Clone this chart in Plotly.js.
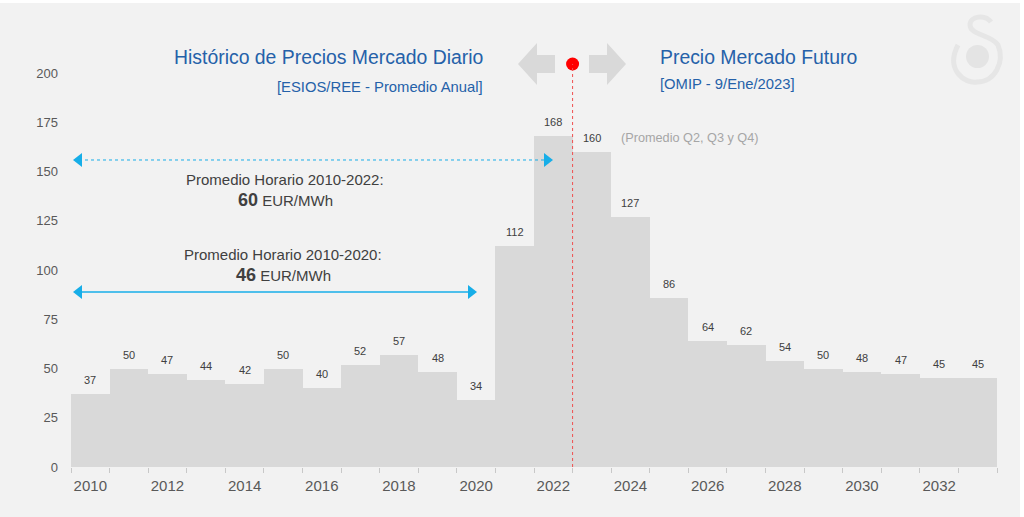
<!DOCTYPE html>
<html>
<head>
<meta charset="utf-8">
<script src="https://cdn.plot.ly/plotly-3.0.1.min.js"></script>
<style>
  html, body { margin: 0; padding: 0; background: #ffffff; width: 1024px; height: 517px; overflow: hidden; }
  #chart { position: absolute; left: 0; top: 3px; width: 1020px; height: 514px; }
</style>
</head>
<body>
<div id="chart"></div>
<script>
// ---- data ----
const years = [2010, 2011, 2012, 2013, 2014, 2015, 2016, 2017, 2018, 2019, 2020, 2021,
               2022, 2023, 2024, 2025, 2026, 2027, 2028, 2029, 2030, 2031, 2032, 2033];
const prices = [37, 50, 47, 44, 42, 50, 40, 52, 57, 48, 34, 112,
                168, 160, 127, 86, 64, 62, 54, 50, 48, 47, 45, 45];
const xTickVals = [2010, 2012, 2014, 2016, 2018, 2020, 2022, 2024, 2026, 2028, 2030, 2032];
const yTickVals = [0, 25, 50, 75, 100, 125, 150, 175, 200];
const avg2022 = 60;   // Promedio Horario 2010-2022
const avg2020 = 46;   // Promedio Horario 2010-2020

// ---- helpers for decoration placement (page px -> paper / data) ----
const PL = 71, PR = 997, PT = 6, PB = 467;
const X = px => (px - PL) / (PR - PL);
const Y = py => (PB - py) / (PB - PT);
const pxX = px => 2009.5 + (px - PL) / ((PR - PL) / 24);
const pxY = py => (PB - py) / 1.97;

const boundaries = years.map(y => y - 0.5).concat([years[years.length - 1] + 0.5]);

const bars = {
  type: 'bar', x: years, y: prices, width: 1,
  marker: { color: '#d9d9d9', line: { width: 0 } },
  hoverinfo: 'none', showlegend: false
};

const arrowColor = '#17aee8';
const arrTop = {
  type: 'scatter', mode: 'lines+markers',
  x: [pxX(79), pxX(547)], y: [pxY(160), pxY(160)],
  line: { color: arrowColor, width: 1, dash: 'dot' },
  marker: { symbol: ['triangle-left', 'triangle-right'], size: 12, color: arrowColor },
  hoverinfo: 'none', showlegend: false, cliponaxis: false
};
const arrBot = {
  type: 'scatter', mode: 'lines+markers',
  x: [pxX(79), pxX(471)], y: [pxY(292), pxY(292)],
  line: { color: arrowColor, width: 1.5 },
  marker: { symbol: ['triangle-left', 'triangle-right'], size: 12, color: arrowColor },
  hoverinfo: 'none', showlegend: false, cliponaxis: false
};
const redDot = {
  type: 'scatter', mode: 'markers',
  x: [2022.5], y: [pxY(64)],
  marker: { color: '#ff0000', size: 13 },
  hoverinfo: 'none', showlegend: false, cliponaxis: false
};

const annotations = [];
// data labels
years.forEach((yr, i) => {
  annotations.push({
    x: yr, y: prices[i], xref: 'x', yref: 'y', text: String(prices[i]),
    showarrow: false, yanchor: 'middle', yshift: 14,
    font: { family: 'Liberation Sans, Arial, sans-serif', size: 11, color: '#404040' }
  });
});
const blue = '#2561a9';
const txtFont = { family: 'Liberation Sans, Arial, sans-serif' };
annotations.push(
  { x: pxX(485), y: pxY(57), xref: 'x', yref: 'y', xanchor: 'right', yanchor: 'middle', showarrow: false,
    text: 'Histórico de Precios Mercado Diario', font: { ...txtFont, size: 19.4, color: blue } },
  { x: pxX(485), y: pxY(87), xref: 'x', yref: 'y', xanchor: 'right', yanchor: 'middle', showarrow: false,
    text: '[ESIOS/REE - Promedio Anual]', font: { ...txtFont, size: 14.8, color: blue } },
  { x: pxX(658), y: pxY(57), xref: 'x', yref: 'y', xanchor: 'left', yanchor: 'middle', showarrow: false,
    text: 'Precio Mercado Futuro', font: { ...txtFont, size: 19.4, color: blue } },
  { x: pxX(658), y: pxY(84), xref: 'x', yref: 'y', xanchor: 'left', yanchor: 'middle', showarrow: false,
    text: '[OMIP - 9/Ene/2023]', font: { ...txtFont, size: 14.8, color: blue } },
  { x: pxX(619), y: pxY(138), xref: 'x', yref: 'y', xanchor: 'left', yanchor: 'middle', showarrow: false,
    text: '(Promedio Q2, Q3 y Q4)', font: { ...txtFont, size: 12.7, color: '#a6a6a6' } },
  { x: pxX(285), y: pxY(180), xref: 'x', yref: 'y', xanchor: 'center', yanchor: 'middle', showarrow: false,
    text: 'Promedio Horario 2010-2022:', font: { ...txtFont, size: 15, color: '#404040' } },
  { x: pxX(285), y: pxY(200), xref: 'x', yref: 'y', xanchor: 'center', yanchor: 'middle', showarrow: false,
    text: '<b><span style="font-size:18px">' + avg2022 + '</span></b> EUR/MWh', font: { ...txtFont, size: 15, color: '#404040' } },
  { x: pxX(283), y: pxY(255), xref: 'x', yref: 'y', xanchor: 'center', yanchor: 'middle', showarrow: false,
    text: 'Promedio Horario 2010-2020:', font: { ...txtFont, size: 15, color: '#404040' } },
  { x: pxX(283), y: pxY(275), xref: 'x', yref: 'y', xanchor: 'center', yanchor: 'middle', showarrow: false,
    text: '<b><span style="font-size:18px">' + avg2020 + '</span></b> EUR/MWh', font: { ...txtFont, size: 15, color: '#404040' } }
);

const P = (pts) => pts.map((p, i) => (i === 0 ? 'M' : 'L') + X(p[0]) + ',' + Y(p[1])).join(' ') + ' Z';
const shapes = [
  // red dotted divider
  { type: 'line', xref: 'x', yref: 'y', x0: 2022.5, x1: 2022.5, y0: 0, y1: pxY(64),
    line: { color: '#f05050', width: 1, dash: 'dot' }, layer: 'above' },
  // left block arrow
  { type: 'path', xref: 'paper', yref: 'paper', fillcolor: '#d9d9d9', line: { width: 0 },
    path: P([[518, 64], [537, 43], [537, 55], [555, 55], [555, 73], [537, 73], [537, 85]]) },
  // right block arrow
  { type: 'path', xref: 'paper', yref: 'paper', fillcolor: '#d9d9d9', line: { width: 0 },
    path: P([[626, 64], [607, 43], [607, 55], [589, 55], [589, 73], [607, 73], [607, 85]]) },
  // watermark logo
  { type: 'circle', xref: 'paper', yref: 'paper', fillcolor: '#e4e4e4', line: { width: 0 },
    x0: X(966), x1: X(989), y0: Y(68), y1: Y(45) },
  { type: 'path', xref: 'paper', yref: 'paper', line: { color: '#e6e6e6', width: 5 },
    path: 'M' + X(958) + ',' + Y(45) + ' C' + X(945) + ',' + Y(70) + ' ' + X(965) + ',' + Y(84) + ' ' + X(977) + ',' + Y(82) +
          ' C' + X(995) + ',' + Y(82) + ' ' + X(1005) + ',' + Y(62) + ' ' + X(998) + ',' + Y(45) +
          ' C' + X(992) + ',' + Y(35) + ' ' + X(970) + ',' + Y(35) + ' ' + X(970) + ',' + Y(25) +
          ' C' + X(970) + ',' + Y(16) + ' ' + X(985) + ',' + Y(14) + ' ' + X(991) + ',' + Y(22) }
];

const layout = {
  width: 1020, height: 514,
  margin: { l: 71, r: 23, t: 3, b: 50 },
  paper_bgcolor: '#f2f2f2', plot_bgcolor: '#f2f2f2',
  bargap: 0,
  showlegend: false,
  font: { family: 'Liberation Sans, Arial, sans-serif', color: '#595959' },
  xaxis: {
    range: [2009.5, 2033.5], tickmode: 'array', tickvals: xTickVals, ticktext: xTickVals.map(String),
    ticks: '', showgrid: false, zeroline: false, showline: false,
    tickfont: { size: 15, color: '#595959' }, ticklabelstandoff: 8,
    minor: { tickmode: 'array', tickvals: boundaries, ticks: 'outside', ticklen: 5, tickcolor: '#c8c8c8', tickwidth: 1, showgrid: false }
  },
  yaxis: {
    range: [0, 234], tickmode: 'array', tickvals: yTickVals, ticks: '',
    showgrid: false, zeroline: false, showline: false,
    tickfont: { size: 13, color: '#595959' }, ticklabelstandoff: 12
  },
  shapes: shapes,
  annotations: annotations
};

Plotly.newPlot('chart', [bars, arrTop, arrBot, redDot], layout, { displayModeBar: false, staticPlot: true });
</script>
</body>
</html>
